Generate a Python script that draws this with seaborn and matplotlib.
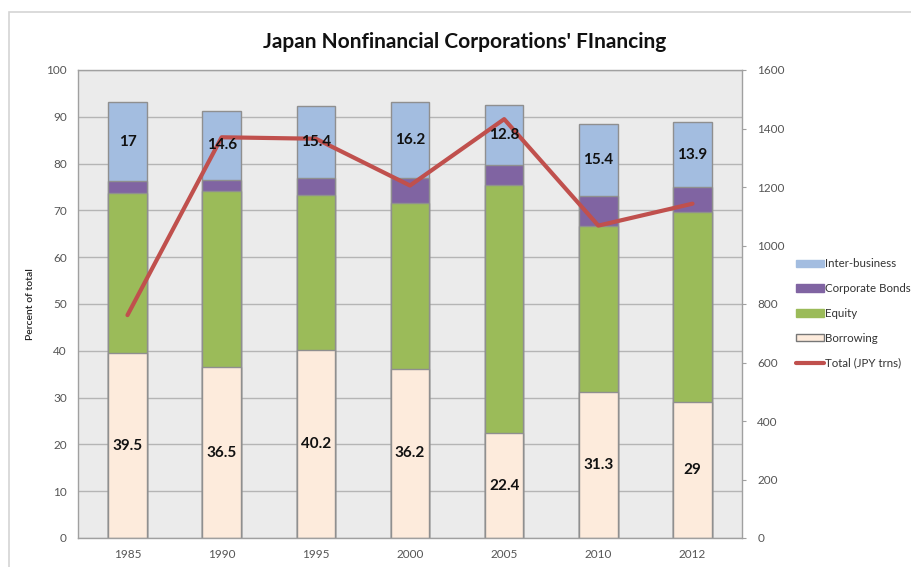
import numpy as np
import pandas as pd
import matplotlib
matplotlib.use("Agg")
import matplotlib.pyplot as plt
from matplotlib.patches import Patch, Rectangle
from matplotlib.lines import Line2D
import seaborn as sns

# Data (percent of total, stacked bottom -> top)
years = ["1985", "1990", "1995", "2000", "2005", "2010", "2012"]
borrowing = [39.5, 36.5, 40.2, 36.2, 22.4, 31.3, 29.0]
equity = [34.2, 37.7, 33.0, 35.3, 53.1, 35.4, 40.7]
corporate_bonds = [2.5, 2.4, 3.8, 5.5, 4.3, 6.3, 5.2]
inter_business = [17.0, 14.6, 15.4, 16.2, 12.8, 15.4, 13.9]
total_jpy = [762, 1370, 1365, 1205, 1432, 1068, 1143]

series_names = ["Borrowing", "Equity", "Corporate Bonds", "Inter-business"]
series_colors = ["#fdebdc", "#9bbb59", "#8064a2", "#a3bde0"]
line_color = "#c0504d"

sns.set_style("white")
plt.rcParams["font.family"] = ["Lato", "DejaVu Sans"]

df = pd.DataFrame({
    "year": years,
    "Borrowing": borrowing,
    "Equity": equity,
    "Corporate Bonds": corporate_bonds,
    "Inter-business": inter_business,
    "Total": total_jpy,
})

fig = plt.figure(figsize=(9.12, 5.67), dpi=100)
ax = fig.add_axes([78 / 912, 29 / 567, 664 / 912, 468 / 567])
ax.set_facecolor("#ebebeb")

# stacked bars: draw cumulative sums from the tallest down
cum = df[series_names].cumsum(axis=1)
for name, color in reversed(list(zip(series_names, series_colors))):
    sns.barplot(x=df["year"], y=cum[name], color=color, width=0.41,
                edgecolor="#8f8f8f", linewidth=1.0, saturation=1, ax=ax)

ax.set_ylim(0, 100)
ax.set_yticks(range(0, 101, 10))
ax.yaxis.grid(True, color="#b5b5b5", linewidth=1.0)
ax.set_axisbelow(True)
ax.set_xlabel("")
ax.set_ylabel("Percent of total", fontsize=7.5, color="#222222",
              fontweight="semibold", labelpad=8)
ax.tick_params(axis="both", labelsize=8.5, colors="#555555", length=0, pad=8)
for s in ax.spines.values():
    s.set_color("#a0a0a0")
    s.set_linewidth(1.0)

# total on secondary axis
ax2 = ax.twinx()
sns.lineplot(x=df["year"], y=df["Total"], color=line_color, linewidth=3.0,
             ax=ax2, sort=False)
ax2.set_ylim(0, 1600)
ax2.set_yticks(range(0, 1601, 200))
ax2.set_ylabel("")
ax2.tick_params(axis="y", labelsize=8.5, colors="#555555", length=3, pad=8)
ax2.tick_params(axis="y", color="#a0a0a0")
for s in ax2.spines.values():
    s.set_visible(False)

# value labels for borrowing and inter-business, drawn above the line
for i, yr in enumerate(years):
    ax2.text(i, borrowing[i] / 2, f"{borrowing[i]:g}", ha="center", va="center",
             fontsize=11, fontweight="bold", color="#111111",
             transform=ax.transData, zorder=6)
    base = borrowing[i] + equity[i] + corporate_bonds[i]
    ax2.text(i, base + inter_business[i] / 2, f"{inter_business[i]:g}",
             ha="center", va="center", fontsize=11, fontweight="bold",
             color="#111111", transform=ax.transData, zorder=6)

fig.text(465 / 912, 1 - 42 / 567, "Japan Nonfinancial Corporations' FInancing",
         ha="center", va="center", fontsize=15, fontweight="bold", color="#111111")

handles = [Patch(facecolor=series_colors[3], edgecolor=series_colors[3]),
           Patch(facecolor=series_colors[2], edgecolor=series_colors[2]),
           Patch(facecolor=series_colors[1], edgecolor=series_colors[1]),
           Patch(facecolor=series_colors[0], edgecolor="#777777"),
           Line2D([0], [0], color=line_color, linewidth=3.0)]
labels = ["Inter-business", "Corporate Bonds", "Equity", "Borrowing", "Total (JPY trns)"]
fig.legend(handles, labels, loc="upper left", bbox_to_anchor=(786 / 912, 1 - 248 / 567),
           frameon=False, fontsize=8.3, handlelength=2.4, handleheight=0.6,
           handletextpad=0.1, labelspacing=1.2, labelcolor="#333333")

# thin outer chart border like the spreadsheet frame
fig.add_artist(Rectangle((9 / 912, -0.05), 1.0, 1 - 12 / 567 + 0.05,
                         transform=fig.transFigure, fill=False,
                         edgecolor="#d4d4d4", linewidth=1.2))

fig.savefig("out.png", dpi=100)
